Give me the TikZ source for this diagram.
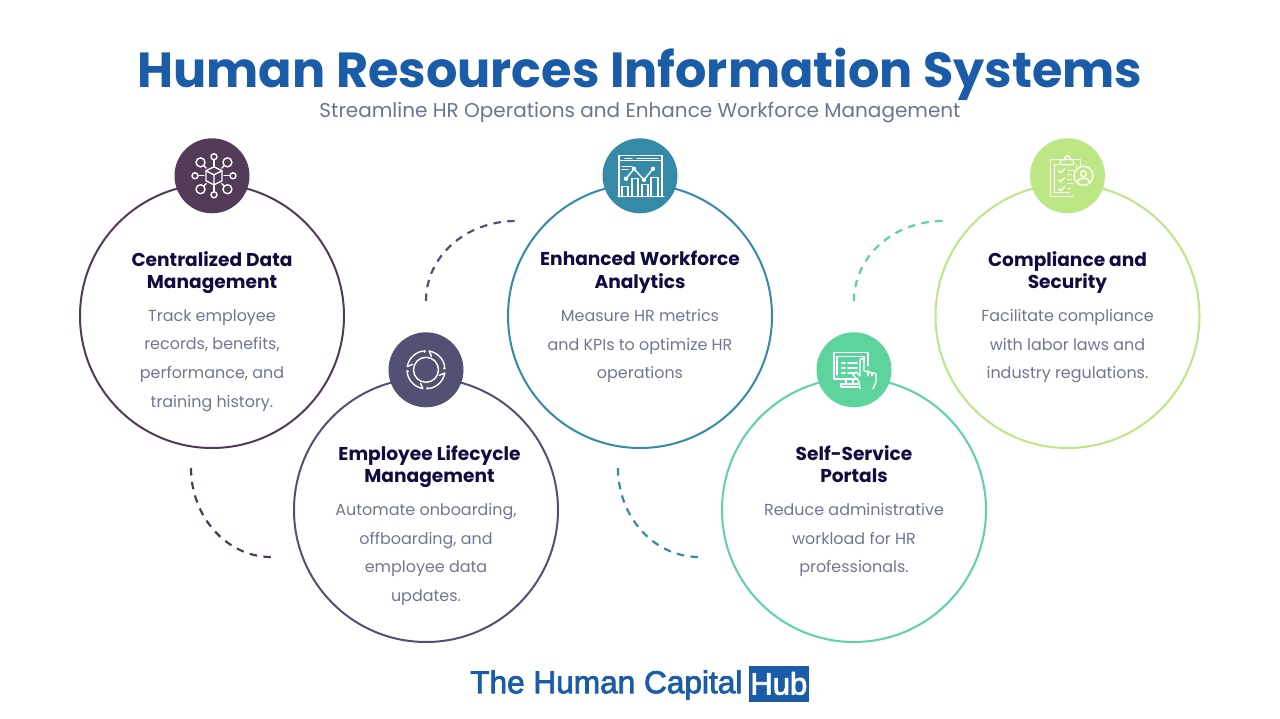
\documentclass[tikz,border=0pt]{standalone}
\usepackage{fontspec}
\setmainfont{Poppins}
\newfontfamily\logofont[FakeBold=2.5]{Liberation Sans}
\usetikzlibrary{positioning}
\definecolor{hubblue}{HTML}{1A5CA8}
\definecolor{subgray}{HTML}{6B7490}
\definecolor{headink}{HTML}{100C40}
\definecolor{bodygray}{HTML}{6F7593}
\definecolor{plum}{HTML}{513B56}
\definecolor{slate}{HTML}{525174}
\definecolor{teal}{HTML}{348AA7}
\definecolor{mint}{HTML}{5DD39E}
\definecolor{lime}{HTML}{BCE784}
\tikzset{
  ring/.style={draw=#1, circle, line width=2pt, minimum size=264pt, inner sep=0pt},
  badge/.style={fill=#1, circle, minimum size=75pt, inner sep=0pt},
  heading/.style={text=headink, font=\fontsize{18.6}{22.6}\selectfont\bfseries, align=center, inner sep=0pt},
  bodytext/.style={text=bodygray, font=\fontsize{15.95}{28.7}\selectfont, align=center, inner sep=0pt},
  link/.style={draw=#1, line width=2.2pt, dash pattern=on 7.5pt off 6.4pt},
  icon/.style={draw=white, line width=1.4pt, line cap=round, line join=round}
}
\begin{document}
\begin{tikzpicture}[x=1pt, y=-1pt]
  \useasboundingbox (0,0) rectangle (1280,719);
  \node[text=hubblue, font=\fontsize{49.3}{56}\selectfont\bfseries, inner sep=0pt] (title) at (640,74) {Human Resources Information Systems};
  \node[text=subgray, font=\fontsize{20}{24}\selectfont, inner sep=0pt] (subtitle) at (640,113) {Streamline HR Operations and Enhance Workforce Management};

  \node[ring=plum] (c1) at (212,316) {};
  \node[ring=slate] (c2) at (426,510) {};
  \node[ring=teal] (c3) at (640,316) {};
  \node[ring=mint] (c4) at (854,510) {};
  \node[ring=lime] (c5) at (1067.5,316) {};

  \node[badge=plum, above=-30.5pt of c1] (i1) {};
  \node[badge=slate, above=-30.5pt of c2] (i2) {};
  \node[badge=teal, above=-30.5pt of c3] (i3) {};
  \node[badge=mint, above=-30.5pt of c4] (i4) {};
  \node[badge=lime, above=-30.5pt of c5] (i5) {};

  \node[heading, below=68pt of c1.north] (h1) {Centralized Data\\Management};
  \node[bodytext, below=126pt of c1.north] (b1) {Track employee\\records, benefits,\\performance, and\\training history.};
  \node[heading, below=68pt of c2.north, xshift=3.5pt] (h2) {Employee Lifecycle\\Management};
  \node[bodytext, below=126pt of c2.north] (b2) {Automate onboarding,\\offboarding, and\\employee data\\updates.};
  \node[heading, below=68pt of c3.north] (h3) {Enhanced Workforce\\Analytics};
  \node[bodytext, below=126pt of c3.north] (b3) {Measure HR metrics\\and KPIs to optimize HR\\operations};
  \node[heading, below=68pt of c4.north] (h4) {Self-Service\\Portals};
  \node[bodytext, below=126pt of c4.north] (b4) {Reduce administrative\\workload for HR\\professionals.};
  \node[heading, below=68pt of c5.north] (h5) {Compliance and\\Security};
  \node[bodytext, below=126pt of c5.north] (b5) {Facilitate compliance\\with labor laws and\\industry regulations.};

  % dashed arcs
  \coordinate (d1a) at (191,468);
  \coordinate (d1b) at (271,557);
  \coordinate (d2a) at (426,301);
  \coordinate (d2b) at (516,221);
  \coordinate (d3a) at (618,468);
  \coordinate (d3b) at (699,557);
  \coordinate (d4a) at (854,301);
  \coordinate (d4b) at (943,221);
  \path[link=plum] (d1a) .. controls (191,517) and (227,557) .. (d1b);
  \path[link=slate] (d2a) .. controls (426,256) and (466,221) .. (d2b);
  \path[link=teal] (d3a) .. controls (618,517) and (654,557) .. (d3b);
  \path[link=mint] (d4a) .. controls (854,256) and (894,221) .. (d4b);

  % cube and spokes
  \begin{scope}[shift={(i1.center)}, xshift=2pt, icon]
    \draw (0,-9) -- (8,-5) -- (8,5) -- (0,9) -- (-8,5) -- (-8,-5) -- cycle;
    \draw (-8,-5) -- (0,-1) -- (8,-5) (0,-1) -- (0,9);
    \foreach \a in {0,90,180,270} {
      \draw (\a:10) -- (\a:16);
      \draw (\a:19) circle (3);
    }
    \foreach \a in {45,135,225,315} {
      \draw (\a:11) -- (\a:14);
      \draw (\a:19) circle (4.5);
    }
  \end{scope}

  % two rings with arrows
  \begin{scope}[shift={(i2.center)}, icon]
    \draw (0,0) circle (12.5);
    \foreach \a in {0,90,180,270} {
      \draw (\a+10:19) arc[start angle=\a+10, end angle=\a+80, radius=19];
      \draw (\a+10:19) -- (\a+22:14.5);
      \fill[white] (\a+85:18.5) circle (1.5);
    }
  \end{scope}

  % window with bar chart
  \begin{scope}[shift={(i3.center)}, icon]
    \draw (-22,21) -- (24,21);
    \draw (-21,21) -- (-21,-20) -- (22,-20) -- (22,21);
    \draw (-21,-15) -- (22,-15);
    \draw (-15,-17.5) -- (-8,-17.5) (-3,-17.5) -- (18,-17.5);
    \draw (-18,-9) -- (-8,-9) (-18,-6) -- (-12,-6);
    \draw (-14,3) -- (-6,-7) -- (4,4) -- (13,-7);
    \foreach \px/\py in {-14/3,-6/-7,4/4,13/-7} \fill[white] (\px,\py) circle (2.2);
    \draw (-18,21) -- (-18,11) -- (-12,11) -- (-12,21);
    \draw (-8,21) -- (-8,3) -- (-2,3) -- (-2,21);
    \draw (2,21) -- (2,9) -- (8,9) -- (8,21);
    \draw (11,21) -- (11,2) -- (18,2) -- (18,21);
  \end{scope}

  % monitor and hand
  \begin{scope}[shift={(i4.center)}, icon]
    \draw (4,9) -- (-20,9) -- (-20,-17) -- (14,-17) -- (14,-4);
    \draw (-17,5) -- (-17,-13) -- (10,-13) -- (10,-8);
    \draw (-8,9) -- (-8,14) (-1,9) -- (-1,14);
    \draw (-13,17) -- (4,17) (-13,17) -- (-13,14) -- (4,14);
    \draw (-12,-7) -- (-9,-7) (-6,-7) -- (3,-7) (-12,-2) -- (-9,-2) (-6,-2) -- (3,-2) (-12,3) -- (-9,3) (-6,3) -- (1,3);
    \draw (6,19) -- (5,12) -- (-1,5) -- (2,2) -- (6,6) -- (6,-9) .. controls (6,-12) and (10,-12) .. (10,-9) -- (10,1) -- (22,4) -- (22,12) -- (19,19);
    \draw (14,1) -- (14,6) (18,3) -- (18,6);
  \end{scope}

  % clipboard and person
  \begin{scope}[shift={(i5.center)}, icon]
    \draw (6,21) -- (-17,21) -- (-17,-16) -- (13,-16) -- (13,-9);
    \draw (-13,-11) -- (-13,17) -- (2,17) (9,-11) -- (9,-9) (-13,-11) -- (-7,-11);
    \draw (-7,-11) -- (-7,-16) -- (-3,-16) .. controls (-3,-21) and (3,-21) .. (3,-16) -- (6,-16) -- (6,-11) -- cycle;
    \draw (-9,-5) -- (-7,-3) -- (-3,-7) (-9,4) -- (-7,6) -- (-3,2) (-9,13) -- (-7,15) -- (-3,11);
    \draw (0,-5) -- (6,-5) (0,-1) -- (4,-1) (0,4) -- (4,4) (0,8) -- (5,8) (0,13) -- (3,13);
    \draw (16,0) circle (9.5);
    \draw (16,-2) circle (3);
    \draw (10,6) .. controls (11,1) and (21,1) .. (22,6);
  \end{scope}

  \node[text=hubblue, font=\fontsize{31.6}{36}\logofont, inner sep=0pt, anchor=west] (logo) at (470,685) {The Human Capital};
  \node[fill=hubblue, text=white, font=\fontsize{31}{36}\logofont, inner sep=0pt, minimum width=60pt, minimum height=36pt, right=6pt of logo, yshift=1.5pt] (hub) {Hub};
\end{tikzpicture}
\end{document}
